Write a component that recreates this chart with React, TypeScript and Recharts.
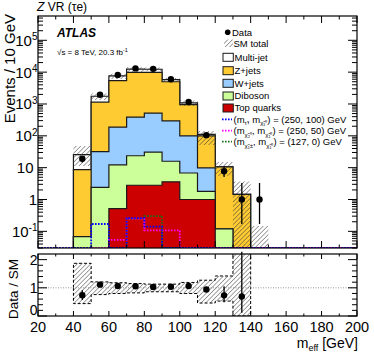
import React from "react";
import {
  ComposedChart, Area, Line, Scatter, XAxis, YAxis, ErrorBar, ReferenceLine,
} from "recharts";

// bins of m_eff, 10 GeV wide
const binLow = [40, 50, 60, 70, 80, 90, 100, 110, 120, 130, 140];
const BIN_W = 10;

// SM backgrounds (events / 10 GeV)
const multiJet  = [17, 610, 2200, 2600, 2500, 800, 130, 12, 0, 0, 0];
const zJets     = [8.6, 1110, 5210, 9400, 9300, 4700, 850, 90, 10.4, 1.45, 0.02];
const wJets     = [0, 29.6, 174, 361, 484, 278, 93, 8, 0, 0, 0];
const diboson   = [0.068, 2.4, 11.8, 20.9, 28.2, 12.3, 5.8, 0.8, 0.12, 0, 0];
const topQuarks = [0, 0, 0.52, 2.8, 2.8, 3.6, 1.0, 1.0, 0, 0, 0];

// SM total uncertainty, relative to SM total
const sysDown = [0.44, 0.76, 0.80, 0.82, 0.86, 0.86, 0.80, 0.46, 0.53, 0, 0];
const sysUp   = [1.87, 1.21, 1.18, 1.15, 1.13, 1.13, 1.19, 1.27, 1.42, 2.55, 7.4];

// data
const dataObs     = [19, 1950, 8100, 13100, 12700, 6000, 1150, 105, 7.7, 1, 1];
const dataErrDown = [4.4, 44, 90, 114, 113, 77, 34, 10, 2.6, 0.83, 0.83];
const dataErrUp   = [4.4, 44, 90, 114, 113, 77, 34, 10, 3.4, 2.3, 2.3];

// signal points
const sigA = [0, 0.17, 0, 0.26, 0.14, 0, 0, 0, 0, 0, 0];        // (250, 100)
const sigB = [0, 0, 0.054, 0.25, 0.107, 0.107, 0, 0, 0, 0, 0];  // (250, 50)
const sigC = [0, 0, 0, 0.25, 0.30, 0, 0, 0, 0, 0, 0];           // (127, 0)

const xTicks = [20, 30, 40, 50, 60, 70, 80, 90, 100, 110, 120, 130, 140, 150, 160, 170, 180, 190, 200];

const Y_MIN = 0.03;
const Y_MAX = 5.8e5;
const FLOOR = 1e-4;

const PL = 38, PR = 357;
const MAIN_TOP = 16, MAIN_BOTTOM = 248;
const R_TOP = 4, R_BOTTOM = 66; // ratio chart local coords (chart placed at y=250)

const FONT = "'Liberation Sans', Arial, Helvetica, sans-serif";

const pos = (v: number) => (v > 0 ? v : FLOOR);

const cumTq  = topQuarks;
const cumDib = binLow.map((_, i) => cumTq[i] + diboson[i]);
const cumW   = binLow.map((_, i) => cumDib[i] + wJets[i]);
const cumZ   = binLow.map((_, i) => cumW[i] + zJets[i]);
const cumAll = binLow.map((_, i) => cumZ[i] + multiJet[i]);

function stackRow(x: number, i: number) {
  return {
    x,
    all: pos(cumAll[i]),
    z: pos(cumZ[i]),
    w: pos(cumW[i]),
    db: pos(cumDib[i]),
    tq: pos(cumTq[i]),
    band: [pos(cumAll[i] * sysDown[i]), pos(cumAll[i] * sysUp[i])],
  };
}
const emptyRow = (x: number) => ({ x, all: FLOOR, z: FLOOR, w: FLOOR, db: FLOOR, tq: FLOOR, band: [FLOOR, FLOOR] });
const lastEdge = binLow[binLow.length - 1] + BIN_W;
const stackRows = [
  emptyRow(binLow[0]),
  ...binLow.map((x, i) => stackRow(x, i)),
  stackRow(lastEdge, binLow.length - 1),
  emptyRow(lastEdge),
];

function sigRows(sig: number[]) {
  return xTicks.map((x) => {
    const i = binLow.indexOf(x);
    const v = i >= 0 ? sig[i] : 0;
    return { x, v: v > 0 ? v : Y_MIN };
  });
}

const pointRows = binLow.map((x, i) => ({
  x: x + BIN_W / 2, y: dataObs[i], err: [dataErrDown[i], dataErrUp[i]],
}));

const ratioIdx = binLow.map((_, i) => i).filter((i) => cumAll[i] > 0.1);
const ratioPoints = ratioIdx.map((i) => ({
  x: binLow[i] + BIN_W / 2,
  y: dataObs[i] / cumAll[i],
  err: [dataErrDown[i] / cumAll[i], dataErrUp[i] / cumAll[i]],
}));
const lastR = ratioIdx[ratioIdx.length - 1];
const ratioBand = [
  { x: binLow[0], band: [1, 1] },
  ...ratioIdx.map((i) => ({ x: binLow[i], band: [sysDown[i], sysUp[i]] })),
  { x: binLow[lastR] + BIN_W, band: [sysDown[lastR], sysUp[lastR]] },
  { x: binLow[lastR] + BIN_W, band: [1, 1] },
];

// log ticks: majors at decades, minors 2..9
const yTicks: number[] = [];
for (let e = -2; e <= 5; e++) {
  for (let m = 1; m <= 9; m++) {
    const v = m * Math.pow(10, e);
    if (v >= Y_MIN && v <= Y_MAX) yTicks.push(+v.toPrecision(3));
  }
}
const rTicks = [0, 0.2, 0.4, 0.6, 0.8, 1, 1.2, 1.4, 1.6, 1.8, 2];

const isDecade = (v: number) => Math.abs(Math.log10(v) - Math.round(Math.log10(v))) < 1e-6;

const MainYTick = (props: any) => {
  const { y, payload } = props;
  const v = payload.value;
  const major = isDecade(v);
  const len = major ? 9 : 5;
  const e = Math.round(Math.log10(v));
  let label: any = null;
  if (major) {
    if (e === 0) label = <text x={37} y={y + 5.4} textAnchor="end" fontSize={15} fontFamily={FONT}>1</text>;
    else if (e === 1) label = <text x={33.5} y={y + 5.4} textAnchor="end" fontSize={15} fontFamily={FONT}>10</text>;
    else label = (
      <text x={37.5} y={y + 5.4} textAnchor="end" fontSize={15} fontFamily={FONT}>
        10<tspan dy={-5.5} fontSize={10}>{e}</tspan>
      </text>
    );
  }
  return (
    <g>
      <line x1={PL} x2={PL + len} y1={y} y2={y} stroke="#000" strokeWidth={1} />
      <line x1={PR - len} x2={PR} y1={y} y2={y} stroke="#000" strokeWidth={1} />
      {label}
    </g>
  );
};

const MainXTick = (props: any) => {
  const { x, payload } = props;
  const len = payload.value % 20 === 0 ? 7 : 3.5;
  return (
    <g>
      <line x1={x} x2={x} y1={MAIN_BOTTOM} y2={MAIN_BOTTOM - len} stroke="#000" strokeWidth={1} />
      <line x1={x} x2={x} y1={MAIN_TOP} y2={MAIN_TOP + len} stroke="#000" strokeWidth={1} />
    </g>
  );
};

const RatioYTick = (props: any) => {
  const { y, payload } = props;
  const v = payload.value;
  const major = Math.abs(v - Math.round(v)) < 1e-6;
  const len = major ? 9 : 5;
  const dy = v === 0 ? -1 : 5;
  return (
    <g>
      <line x1={PL} x2={PL + len} y1={y} y2={y} stroke="#000" strokeWidth={1} />
      <line x1={PR - len} x2={PR} y1={y} y2={y} stroke="#000" strokeWidth={1} />
      {major && <text x={37.5} y={y + dy} textAnchor="end" fontSize={14} fontFamily={FONT}>{Math.round(v)}</text>}
    </g>
  );
};

const RatioXTick = (props: any) => {
  const { x, payload } = props;
  const major = payload.value % 20 === 0;
  const len = major ? 5 : 2.5;
  return (
    <g>
      <line x1={x} x2={x} y1={R_BOTTOM} y2={R_BOTTOM - len} stroke="#000" strokeWidth={1} />
      <line x1={x} x2={x} y1={R_TOP} y2={R_TOP + len} stroke="#000" strokeWidth={1} />
      {major && <text x={x} y={81.5} textAnchor="middle" fontSize={14.5} fontFamily={FONT}>{payload.value}</text>}
    </g>
  );
};

const dot = (p: any) => <circle cx={p.cx} cy={p.cy} r={3.2} fill="#000" />;

const hatchDefs = (id: string) => (
  <defs>
    <pattern id={id} width="3.2" height="3.2" patternUnits="userSpaceOnUse" patternTransform="rotate(45)">
      <line x1="0" y1="0" x2="0" y2="3.2" stroke="#333" strokeWidth="0.9" />
    </pattern>
  </defs>
);

const layers = [
  { key: "all", color: "#ffffff" },
  { key: "z", color: "#ffcb33" },
  { key: "w", color: "#99ccff" },
  { key: "db", color: "#ccff99" },
  { key: "tq", color: "#cc0000" },
];

const legendBoxes = [
  { label: "Multi-jet", color: "#ffffff", y: 57.3 },
  { label: "Z+jets", color: "#ffcb33", y: 70.7 },
  { label: "W+jets", color: "#99ccff", y: 83.3 },
  { label: "Diboson", color: "#ccff99", y: 96 },
  { label: "Top quarks", color: "#cc0000", y: 108 },
];

function SigLabel({ y, color, a, b, vals }: { y: number; color: string; a: string; b: string; vals: string }) {
  return (
    <g>
      <line x1={222} x2={232} y1={y} y2={y} stroke={color} strokeWidth={1.8} strokeDasharray="1.6 1.4" />
      <text x={233.5} y={y + 3.3} fontSize={9.5} fontFamily={FONT}>
        (m<tspan dy={2.5} fontSize={6}>{a}</tspan>
        <tspan dy={-2.5}>, m</tspan><tspan dy={2.5} fontSize={6}>{b}</tspan>
        <tspan dy={-2.5}>{") = " + vals + " GeV"}</tspan>
      </text>
    </g>
  );
}

export default function App() {
  return (
    <div style={{ position: "absolute", left: 0, top: 0, width: 374, height: 359, background: "#fff", overflow: "hidden" }}>
      {/* main panel */}
      <div style={{ position: "absolute", left: 0, top: 0 }}>
        <ComposedChart width={374} height={250} margin={{ top: 16, right: 17, bottom: 0, left: 0 }}>
          {hatchDefs("hatch")}
          <XAxis type="number" dataKey="x" domain={[20, 200]} ticks={xTicks} interval={0} allowDataOverflow
            axisLine={false} tickLine={false} height={2} tick={MainXTick} />
          <YAxis type="number" scale="log" domain={[Y_MIN, Y_MAX]} ticks={yTicks} interval={0} allowDataOverflow
            axisLine={false} tickLine={false} width={38} tick={MainYTick} />
          {layers.map((l) => (
            <Area key={l.key} data={stackRows} dataKey={l.key} type="stepAfter" baseValue="dataMin"
              fill={l.color} fillOpacity={1} stroke="#1a1a1a" strokeWidth={1.2} isAnimationActive={false} />
          ))}
          <Area data={stackRows} dataKey="band" type="stepAfter" fill="url(#hatch)" fillOpacity={1}
            stroke="none" isAnimationActive={false} />
          <Line data={sigRows(sigC)} dataKey="v" type="stepAfter" stroke="#1b6e1b" strokeWidth={1.8}
            strokeDasharray="1.6 1.4" dot={false} isAnimationActive={false} />
          <Line data={sigRows(sigB)} dataKey="v" type="stepAfter" stroke="#ff00ff" strokeWidth={1.8}
            strokeDasharray="1.6 1.4" dot={false} isAnimationActive={false} />
          <Line data={sigRows(sigA)} dataKey="v" type="stepAfter" stroke="#0000ff" strokeWidth={1.8}
            strokeDasharray="1.6 1.4" dot={false} isAnimationActive={false} />
          <Scatter data={pointRows} dataKey="y" shape={dot} isAnimationActive={false}>
            <ErrorBar dataKey="err" direction="y" width={0} stroke="#000" strokeWidth={1.3} />
          </Scatter>
        </ComposedChart>
      </div>

      {/* ratio panel */}
      <div style={{ position: "absolute", left: 0, top: 250 }}>
        <ComposedChart width={374} height={109} margin={{ top: 4, right: 17, bottom: 0, left: 0 }}>
          {hatchDefs("hatchR")}
          <XAxis type="number" dataKey="x" domain={[20, 200]} ticks={xTicks} interval={0} allowDataOverflow
            axisLine={false} tickLine={false} height={43} tick={RatioXTick} />
          <YAxis type="number" domain={[0, 2.2]} ticks={rTicks} interval={0} allowDataOverflow
            axisLine={false} tickLine={false} width={38} tick={RatioYTick} />
          <ReferenceLine y={1} stroke="#777" strokeWidth={0.8} strokeDasharray="1 1.5" />
          <Area data={ratioBand} dataKey="band" type="stepAfter" fill="url(#hatchR)" fillOpacity={1}
            stroke="#000" strokeWidth={1} strokeDasharray="3 2" isAnimationActive={false} />
          <Scatter data={ratioPoints} dataKey="y" shape={dot} isAnimationActive={false}>
            <ErrorBar dataKey="err" direction="y" width={0} stroke="#000" strokeWidth={1.3} />
          </Scatter>
        </ComposedChart>
      </div>

      {/* frames, titles, legend */}
      <svg width={374} height={359} style={{ position: "absolute", left: 0, top: 0, pointerEvents: "none" }}>
        {hatchDefs("hatchL")}
        <rect x={PL} y={MAIN_TOP} width={PR - PL} height={MAIN_BOTTOM - MAIN_TOP} fill="none" stroke="#000" strokeWidth={1.2} />
        <rect x={PL} y={250 + R_TOP} width={PR - PL} height={R_BOTTOM - R_TOP} fill="none" stroke="#000" strokeWidth={1.2} />

        <text x={37} y={10.5} fontSize={12} fontFamily={FONT}>
          <tspan fontStyle="italic">Z</tspan> VR (τe)
        </text>
        <text x={57} y={37} fontSize={12} fontWeight="bold" fontStyle="italic" fontFamily={FONT}>ATLAS</text>
        <text x={57} y={55} fontSize={8} fontFamily={FONT}>
          √s = 8 TeV, 20.3 fb<tspan dy={-3} fontSize={5.5}>-1</tspan>
        </text>

        <text transform="translate(14.5,14) rotate(-90)" textAnchor="end" fontSize={15} fontFamily={FONT}>Events / 10 GeV</text>
        <text transform="translate(17.5,259) rotate(-90)" textAnchor="end" fontSize={13.5} fontFamily={FONT}>Data / SM</text>

        <text x={358} y={348} textAnchor="end" fontSize={14} fontFamily={FONT}>
          m<tspan dy={3} fontSize={9}>eff</tspan><tspan dy={-3}> [GeV]</tspan>
        </text>

        {/* legend */}
        <circle cx={227.7} cy={32.3} r={2.8} fill="#000" />
        <text x={232} y={35.6} fontSize={9.5} fontFamily={FONT}>Data</text>
        <rect x={224} y={39.5} width={9} height={7.5} fill="url(#hatchL)" />
        <text x={233.5} y={46.6} fontSize={9.5} fontFamily={FONT}>SM total</text>
        {legendBoxes.map((b) => (
          <g key={b.label}>
            <rect x={223} y={b.y - 4} width={10.3} height={8} fill={b.color} stroke="#1a1a1a" strokeWidth={1} />
            <text x={234.5} y={b.y + 3.3} fontSize={9.5} fontFamily={FONT}>{b.label}</text>
          </g>
        ))}
        <SigLabel y={119.3} color="#0000ff" a="τ̃" b="χ̃₁⁰" vals="(250, 100)" />
        <SigLabel y={130.7} color="#ff00ff" a="χ̃₂⁰" b="χ̃₁⁰" vals="(250, 50)" />
        <SigLabel y={141.7} color="#1b6e1b" a="χ̃₁±" b="χ̃₁⁰" vals="(127, 0)" />
      </svg>
    </div>
  );
}
